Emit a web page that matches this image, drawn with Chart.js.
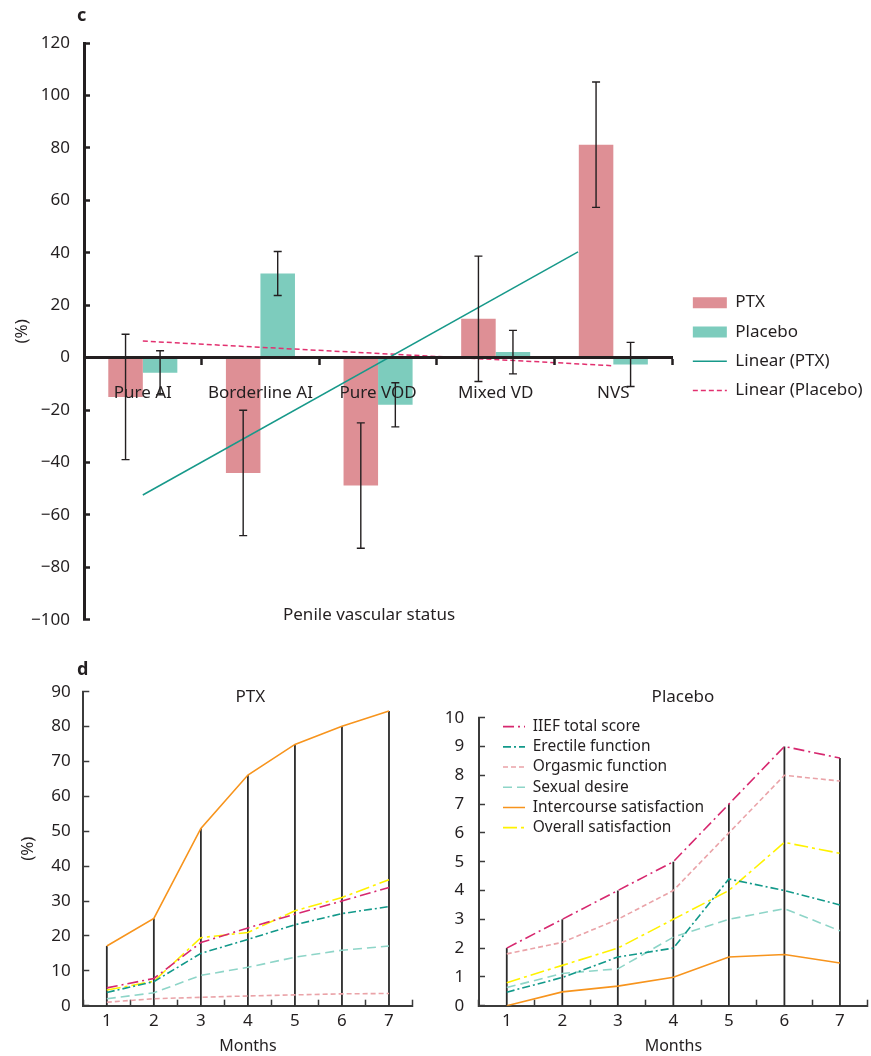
<!DOCTYPE html>
<html lang="en">
<head>
  <meta charset="UTF-8">
  <title>Penile vascular status and IIEF change</title>
  <script src="https://cdn.jsdelivr.net/npm/chart.js"></script>
  <style>
    body { margin: 0; background: #fff; }
    #page { position: relative; width: 871px; height: 1056px; font-family: "Noto Sans", sans-serif; color: #231f20; }
    #page canvas, #page .txt { position: absolute; }
    .tag { font-size: 18px; font-weight: bold; line-height: 18px; }
  </style>
</head>
<body>
<div id="page">
  <canvas id="statusChart" width="871" height="650" style="left:0;top:0"></canvas>
  <canvas id="ptxChart" width="435" height="406" style="left:0;top:650px"></canvas>
  <canvas id="placeboChart" width="436" height="406" style="left:435px;top:650px"></canvas>
  <div class="txt tag" style="left:77px;top:5px">c</div>
  <div class="txt tag" style="left:77px;top:659px">d</div>
  <div class="txt" style="left:283px;top:604px;font-size:17px;line-height:20px">Penile vascular status</div>
</div>

<script>
  Chart.defaults.font.family = '"Noto Sans", sans-serif';
  Chart.defaults.color = '#231f20';
  const ink = '#231f20';

  // the trend lines sit on a hidden second x axis; don't let that split the bar groups
  Chart.BarController.prototype._getAxisCount = function () { return 1; };

  // --- c : change (%) by penile vascular status
  const vascularGroups = ['Pure AI', 'Borderline AI', 'Pure VOD', 'Mixed VD', 'NVS'];
  const ptxChange = [-15, -44, -48.8, 14.8, 81.2];
  const ptxSpread = [23.9, 23.9, 23.9, 23.9, 23.9];
  const placeboChange = [-5.8, 32.1, -18, 2.1, -2.6];
  const placeboSpread = [8.4, 8.4, 8.4, 8.3, 8.4];
  // trend lines: end points (category position, value)
  const ptxTrendAt = [1, 4.7];
  const ptxTrend = [-52.4, 40.3];
  const placeboTrendAt = [1, 5];
  const placeboTrend = [6.3, -3.1];

  // --- d : monthly change, PTX (%) and placebo
  const months = ['1', '2', '3', '4', '5', '6', '7'];
  const domainNames = ['IIEF total score', 'Erectile function', 'Orgasmic function',
    'Sexual desire', 'Intercourse satisfaction', 'Overall satisfaction'];

  const ptxIief = [5.1, 7.8, 18.1, 22.3, 26.2, 30.0, 33.9];
  const ptxErectile = [3.8, 6.9, 15.0, 19.0, 23.2, 26.4, 28.4];
  const ptxOrgasmic = [1.0, 2.0, 2.4, 2.8, 3.1, 3.4, 3.5];
  const ptxDesire = [2.0, 3.7, 8.7, 11.0, 13.9, 15.9, 17.1];
  const ptxIntercourse = [17.1, 25.0, 50.8, 66.1, 74.9, 80.1, 84.5];
  const ptxOverall = [4.5, 7.0, 19.5, 21.0, 27.2, 31.0, 36.1];

  const placeboIief = [2.0, 3.0, 4.0, 5.0, 7.0, 9.0, 8.6];
  const placeboErectile = [0.47, 0.98, 1.69, 2.0, 4.4, 4.0, 3.5];
  const placeboOrgasmic = [1.8, 2.2, 3.0, 4.0, 6.0, 8.0, 7.8];
  const placeboDesire = [0.63, 1.12, 1.28, 2.38, 3.0, 3.37, 2.6];
  const placeboIntercourse = [0, 0.48, 0.68, 0.99, 1.69, 1.78, 1.48];
  const placeboOverall = [0.8, 1.4, 2.0, 3.0, 4.0, 5.67, 5.29];

  const domainColors = ['#d7286f', '#12998a', '#eaa3a8', '#8ed5c8', '#f7941d', '#fff200'];
  const domainDashes = [[11, 4, 2, 4], [8, 3, 2, 3], [5, 3], [9, 5], [], [14, 4, 3, 4]];

  // legend: bars as boxes, lines as (dashed) strokes, in dataset order
  function legendItems(chart) {
    const items = Chart.defaults.plugins.legend.labels.generateLabels(chart);
    items.forEach(item => {
      const ds = chart.data.datasets[item.datasetIndex];
      const isLine = (ds.type || chart.config.type) === 'line';
      item.pointStyle = isLine ? 'line' : 'rect';
      item.lineDash = ds.borderDash || [];
      if (isLine) {
        item.strokeStyle = ds.borderColor;
        item.lineWidth = ds.borderWidth;
      }
    });
    return items.sort((a, b) => a.datasetIndex - b.datasetIndex);
  }

  // move legend / title boxes after layout
  function nudgePlugin(shift) {
    return {
      id: 'nudge',
      afterLayout(chart) {
        [['legend', chart.legend], ['title', chart.titleBlock]].forEach(([key, box]) => {
          const d = shift[key];
          if (!box || !d) return;
          box.left += d[0]; box.right += d[0];
          box.top += d[1]; box.bottom += d[1];
        });
      }
    };
  }

  function errorBarPlugin(spreads) {
    return {
      id: 'errorBars',
      afterDatasetsDraw(chart) {
        const ctx = chart.ctx, y = chart.scales.y;
        spreads.forEach((spread, di) => {
          const values = chart.data.datasets[di].data;
          chart.getDatasetMeta(di).data.forEach((bar, i) => {
            const hi = y.getPixelForValue(values[i] + spread[i]);
            const lo = y.getPixelForValue(values[i] - spread[i]);
            ctx.save();
            ctx.strokeStyle = ink;
            ctx.lineWidth = 1.4;
            ctx.beginPath();
            ctx.moveTo(bar.x, hi); ctx.lineTo(bar.x, lo);
            ctx.moveTo(bar.x - 4, hi); ctx.lineTo(bar.x + 4, hi);
            ctx.moveTo(bar.x - 4, lo); ctx.lineTo(bar.x + 4, lo);
            ctx.stroke();
            ctx.restore();
          });
        });
      }
    };
  }

  // vertical drop lines from the highest series down to the axis
  const dropLines = {
    id: 'dropLines',
    beforeDatasetsDraw(chart) {
      const {ctx, scales: {x, y}} = chart;
      const sets = chart.data.datasets;
      chart.data.labels.forEach((m, i) => {
        const top = Math.max(...sets.map(ds => ds.data[i]));
        const px = x.getPixelForValue(i);
        ctx.save();
        ctx.strokeStyle = '#2b2b2b';
        ctx.lineWidth = 1.8;
        ctx.beginPath();
        ctx.moveTo(px, y.getPixelForValue(top));
        ctx.lineTo(px, y.getPixelForValue(0));
        ctx.stroke();
        ctx.restore();
      });
    }
  };

  new Chart(document.getElementById('statusChart'), {
    type: 'bar',
    data: {
      labels: vascularGroups,
      datasets: [
        { label: 'PTX', data: ptxChange, backgroundColor: '#de8f95', order: 2,
          categoryPercentage: 0.587, barPercentage: 1 },
        { label: 'Placebo', data: placeboChange, backgroundColor: '#7dccbd', order: 2,
          categoryPercentage: 0.587, barPercentage: 1 },
        { type: 'line', label: 'Linear (PTX)', xAxisID: 'xt', order: 1,
          data: ptxTrendAt.map((x, i) => ({ x, y: ptxTrend[i] })),
          borderColor: '#17998a', borderWidth: 1.5, pointRadius: 0 },
        { type: 'line', label: 'Linear (Placebo)', xAxisID: 'xt', order: 1,
          data: placeboTrendAt.map((x, i) => ({ x, y: placeboTrend[i] })),
          borderColor: '#e2306f', borderWidth: 1.5, borderDash: [5, 3], pointRadius: 0 }
      ]
    },
    options: {
      responsive: false,
      animation: false,
      layout: { padding: { left: 0, top: 43, right: 6.8, bottom: 27 } },
      scales: {
        x: {
          position: { y: 0 },
          ticks: { padding: 19.5, font: { size: 17 }, maxRotation: 0, autoSkip: false, z: 1 },
          grid: { drawOnChartArea: false, offset: true, tickLength: 6, tickWidth: 2.5, tickColor: ink, z: 1 },
          border: { color: ink, width: 3, z: 1 }
        },
        xt: { type: 'linear', min: 0.5, max: 5.5, display: false, offset: false, grid: { offset: false } },
        y: {
          min: -100, max: 120,
          afterFit: s => { s.width = 84; },
          ticks: { stepSize: 20, padding: 20, font: { size: 17 },
            callback: v => (v < 0 ? '\u2212' + (-v) : v) },
          grid: { drawOnChartArea: false, tickLength: -6, tickWidth: 2.5, tickColor: ink },
          border: { color: ink, width: 3 },
          title: { display: true, text: '(%)', font: { size: 17 }, padding: { top: 11.8, bottom: 0 } }
        }
      },
      plugins: {
        legend: {
          position: 'right',
          labels: { usePointStyle: true, pointStyleWidth: 34, boxHeight: 11, padding: 12.3,
            font: { size: 17 }, generateLabels: legendItems }
        },
        tooltip: { enabled: false }
      }
    },
    plugins: [errorBarPlugin([ptxSpread, placeboSpread]), nudgePlugin({ legend: [8.4, 13.6] })]
  });

  function domainDatasets(series) {
    return series.map((values, k) => ({
      label: domainNames[k],
      data: values,
      borderColor: domainColors[k],
      borderDash: domainDashes[k],
      borderWidth: 1.6,
      pointRadius: 0,
      tension: 0
    }));
  }

  function monthAxes(yMax, yStep, yWidth, yPad, withTitle) {
    return {
      x: {
        offset: true,
        afterFit: s => { s.height = 50.3; },
        ticks: { padding: 11, font: { size: 17 } },
        grid: { offset: true, drawOnChartArea: false, tickLength: -6, tickWidth: 1.5, tickColor: '#3b3b3b' },
        border: { color: '#3b3b3b', width: 2 },
        title: { display: true, text: 'Months', font: { size: 16 }, padding: { top: 0, bottom: 0 } }
      },
      y: {
        min: 0, max: yMax,
        afterFit: s => { s.width = yWidth; },
        ticks: { stepSize: yStep, padding: yPad, font: { size: 17 } },
        grid: { drawOnChartArea: false, tickLength: -6, tickWidth: 1.5, tickColor: '#3b3b3b' },
        border: { color: '#3b3b3b', width: 2 },
        title: { display: withTitle, text: '(%)', font: { size: 17 }, padding: { top: 18, bottom: 0 } }
      }
    };
  }

  new Chart(document.getElementById('ptxChart'), {
    type: 'line',
    data: {
      labels: months,
      datasets: domainDatasets([ptxIief, ptxErectile, ptxOrgasmic, ptxDesire, ptxIntercourse, ptxOverall])
    },
    options: {
      responsive: false,
      animation: false,
      layout: { padding: { left: 0, top: 21.3, right: 22.5, bottom: 0 } },
      scales: monthAxes(90, 10, 83.3, 18.6, true),
      plugins: {
        title: { display: true, text: 'PTX', font: { size: 17, weight: 'normal' }, color: ink, padding: 0 },
        legend: { display: false },
        tooltip: { enabled: false }
      }
    },
    plugins: [dropLines, nudgePlugin({ title: [44, 15.5] })]
  });

  new Chart(document.getElementById('placeboChart'), {
    type: 'line',
    data: {
      labels: months,
      datasets: domainDatasets([placeboIief, placeboErectile, placeboOrgasmic, placeboDesire,
        placeboIntercourse, placeboOverall])
    },
    options: {
      responsive: false,
      animation: false,
      layout: { padding: { left: 0, top: 47.3, right: 3.3, bottom: 0 } },
      scales: monthAxes(10, 1, 44, 20.7, false),
      plugins: {
        title: { display: true, text: 'Placebo', font: { size: 17, weight: 'normal' }, color: ink, padding: 0 },
        legend: {
          position: 'chartArea',
          align: 'start',
          labels: { usePointStyle: true, pointStyleWidth: 22, padding: 4.7,
            font: { size: 15.5 }, generateLabels: legendItems }
        },
        tooltip: { enabled: false }
      }
    },
    plugins: [dropLines, nudgePlugin({ title: [31.6, -10.8], legend: [19.3, 64.2] })]
  });
</script>
</body>
</html>
